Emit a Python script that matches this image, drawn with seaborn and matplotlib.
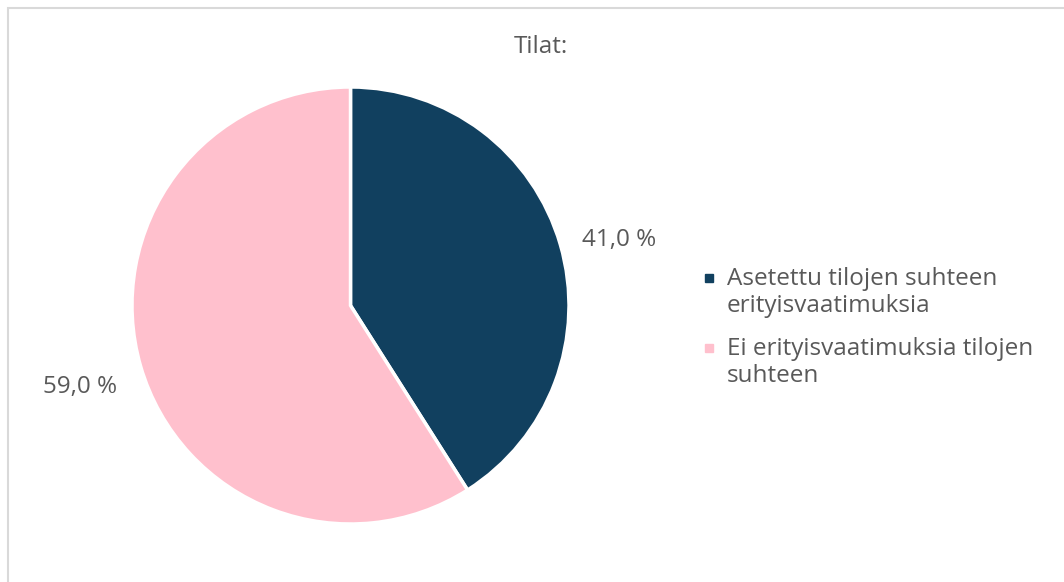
import matplotlib
matplotlib.use("Agg")
import matplotlib.pyplot as plt
import seaborn as sns
from matplotlib.lines import Line2D
from matplotlib.patches import Rectangle
from matplotlib.legend_handler import HandlerLine2D
from matplotlib.transforms import offset_copy

categories = ["Asetettu tilojen suhteen\nerityisvaatimuksia",
              "Ei erityisvaatimuksia tilojen\nsuhteen"]
values = [41.0, 59.0]
colors = ["#11405F", "#FFC0CD"]
title = "Tilat:"

sns.set_theme(style="white")
plt.rcParams["font.family"] = ["Open Sans", "DejaVu Sans"]
text_color = "#595959"
FS = 17.5

W, H = 1064, 582
fig = plt.figure(figsize=(W / 100, H / 100), dpi=100)
fig.patch.set_facecolor("white")

# outer border
fig.add_artist(Rectangle((8 / W, -0.05), 1.2, (H - 8) / H + 0.05,
                         transform=fig.transFigure, fill=False,
                         edgecolor="#D9D9D9", linewidth=1.5))

cx, cy, r = 350.5, 305.5, 218.5
ax = fig.add_axes([(cx - r) / W, (H - cy - r) / H, 2 * r / W, 2 * r / H])
wedges, _, autotexts = ax.pie(
    values, colors=colors, startangle=90, counterclock=False,
    autopct=lambda p: f"{p:.1f} %".replace(".", ","), pctdistance=1.27,
    wedgeprops=dict(edgecolor="white", linewidth=2.5),
    textprops=dict(color=text_color, fontsize=FS))
# small nudges of the labels (in pixels) to mirror the original placement
for t, (dx, dy) in zip(autotexts, [(2, -12), (-4, -4)]):
    t.set_transform(offset_copy(t.get_transform(), fig=fig,
                                x=dx, y=dy, units="dots"))
ax.set_xlim(-1, 1)
ax.set_ylim(-1, 1)
ax.set_aspect("equal")
ax.axis("off")

fig.text(541 / W, 1 - 47 / H, title, ha="center", va="center",
         color=text_color, fontsize=FS)


class TopMarkerHandler(HandlerLine2D):
    """Place the legend marker level with the first line of a two-line label."""
    def create_artists(self, legend, orig_handle, xdescent, ydescent,
                       width, height, fontsize, trans):
        artists = super().create_artists(legend, orig_handle, xdescent,
                                         ydescent, width, height, fontsize,
                                         trans)
        shift = fontsize * 0.62
        for a in artists:
            a.set_ydata([y + shift for y in a.get_ydata()])
        return artists


handles = [Line2D([0], [0], marker="s", linestyle="none", markersize=6,
                  markerfacecolor=c, markeredgecolor=c) for c in colors]
fig.legend(handles, categories, loc="upper left",
           bbox_to_anchor=(694 / W, 1 - 257 / H), frameon=False,
           labelcolor=text_color, fontsize=FS, handlelength=0.45,
           handletextpad=0.5, labelspacing=0.75, borderaxespad=0,
           handler_map={Line2D: TopMarkerHandler()})

fig.savefig("out.png", dpi=100, facecolor="white")
